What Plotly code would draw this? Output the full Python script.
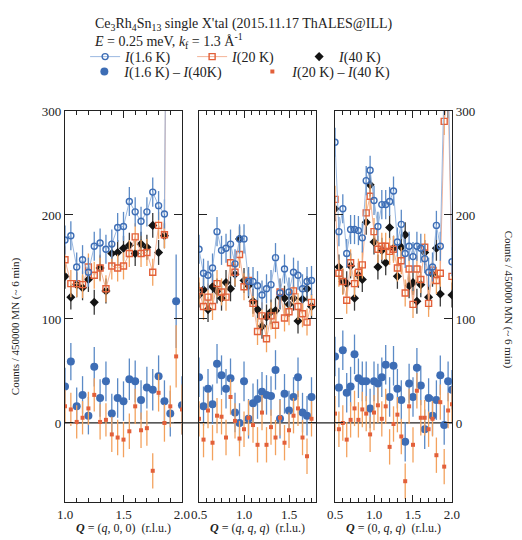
import plotly.graph_objects as go

FONT = "Liberation Serif"

# ---------------- Panel 1 : Q = (q, 0, 0) ----------------
q1 = [1.00, 1.05, 1.10, 1.15, 1.20, 1.25, 1.30, 1.35, 1.40, 1.45, 1.50,
      1.55, 1.60, 1.65, 1.70, 1.75, 1.80, 1.85, 1.90, 1.95, 2.00]
i16_1 = [176, 180, 150, 157, 145, 170, 173, 167, 172, 188, 189,
         213, 203, 194, 203, 222, 209, 201, 950, None, None]
i20_1 = [157, 134, 134, 133, 150, 142, 149, 129, 151, 149, 151,
         163, 179, 163, 164, 145, 190, 181, 930, None, None]
i40_1 = [141, 121, 133, 130, 138, 116, 149, 127, 163, 164, 168,
         171, 163, 172, 169, 190, 164, 180, 940, None, None]
d16_1 = [35, 59, 16, 27, 7, 54, 24, 40, 9, 24, 21,
         42, 40, 22, 34, 32, 45, 21, 9, 117, 17]
d20_1 = [16, 13, 1, 5, 14, 27, 1, 3, -11, -14, -16,
         -8, 16, -7, -5, -46, 29, 0, 16, 64, 13]
e16_1 = [18, 18, 18, 18, 18, 19, 18, 19, 19, 19, 19,
         20, 20, 19, 20, 20, 20, 20, 22, 45, 28]
e20_1 = [16, 16, 16, 16, 16, 16, 17, 16, 17, 17, 17,
         17, 17, 17, 17, 17, 18, 18, 20, 30, 24]

# ---------------- Panel 2 : Q = (q, q, q) ----------------
q2 = [0.50, 0.55, 0.60, 0.65, 0.70, 0.75, 0.80, 0.85, 0.90, 0.95, 1.00,
      1.05, 1.10, 1.15, 1.20, 1.25, 1.30, 1.35, 1.40, 1.45, 1.50,
      1.55, 1.60, 1.65, 1.70, 1.75]
i16_2 = [167, 144, 142, 149, 184, 166, 168, 172, 153, 177, 177,
         136, 136, 132, 123, 129, 133, 159, 125, 148, 126,
         145, 142, 129, 136, 137]
i20_2 = [127, 112, 121, 112, 134, 126, 121, 154, 145, 162, 131,
         137, 115, 88, 103, 81, 103, 94, 126, 101, 107,
         127, 112, 105, 97, 116]
i40_2 = [123, 128, 109, 131, 127, 120, 135, 129, 143, 177, 137,
         132, 117, 109, 93, 102, 107, 108, 121, 120, 114,
         120, 98, 119, 129, 112]
d16_2 = [44, 16, 33, 18, 57, 46, 33, 43, 10, 0, 40,
         4, 19, 23, 30, 27, 26, 51, 4, 28, 12,
         25, 44, 10, 7, 25]
d20_2 = [4, -16, 12, -19, 7, 6, -14, 25, 2, -15, -6,
         5, -2, -21, 10, -21, -4, -14, 5, -19, -7,
         7, 14, -14, -32, 4]

# ---------------- Panel 3 : Q = (0, q, q) ----------------
q3 = [0.50, 0.55, 0.60, 0.65, 0.70, 0.75, 0.80, 0.85, 0.90, 0.95, 1.00,
      1.05, 1.10, 1.15, 1.20, 1.25, 1.30, 1.35, 1.40, 1.45, 1.50,
      1.55, 1.60, 1.65, 1.70, 1.75, 1.80, 1.85, 1.90, 1.95, 2.00]
i16_3 = [270, 184, 206, 163, 186, 186, 185, 178, 233, 243, 214,
         189, 210, 210, 213, 223, 174, 191, 163, 170, 160,
         170, 168, 158, 145, 150, 190, 170, 330, 345, 155]
i20_3 = [215, 144, 136, 118, 154, 134, 145, 152, 202, 218, 184,
         167, 170, 170, 165, 167, 149, 156, 125, 148, 114,
         148, 138, 169, 115, 147, 137, 144, 290, 317, 141]
i40_3 = [206, 150, 136, 134, 151, 120, 142, 138, 193, 229, 174,
         150, 166, 154, 188, 168, 141, 169, 181, 132, 135,
         117, 133, 164, 121, 143, 168, 124, 332, 305, 123]
d16_3 = [64, 34, 70, 29, 35, 66, 43, 40, 40, 14, 40,
         38, 44, 56, 25, 55, 33, 22, -18, 38, 25,
         53, 36, -6, 24, 7, 22, 46, -2, 40, 32]
d20_3 = [9, -6, 0, -16, 3, 14, 3, 13, 9, -11, 10,
         17, 4, 16, -23, -1, 8, -13, -56, 16, -21,
         31, 5, 5, -6, 4, -31, 20, -42, 12, 18]

# error sizes (counts)
ERR_I16 = 14
ERR_I20 = 13
ERR_I40 = 12
ERR_D16 = 19
ERR_D20 = 17

# ---------------- styles ----------------
BLUE = "#3d6db5"
BLUE_LINE = "#8fb0dc"
BLUE_ERR = "#5b8ac6"
RED = "#e2603a"
RED_LINE = "#f2a98a"
RED_ERR = "#f3a25e"
BLACK = "#141414"
BLACK_ERR = "#3a3a3a"
AXC = "#222222"

fig = go.Figure()

panels = [
    (q1, i16_1, i20_1, i40_1, d16_1, d20_1, e16_1, e20_1, "x", "y"),
    (q2, i16_2, i20_2, i40_2, d16_2, d20_2, None, None, "x2", "y2"),
    (q3, i16_3, i20_3, i40_3, d16_3, d20_3, None, None, "x3", "y3"),
]


def err(arr, const, color):
    if arr is None:
        return dict(type="constant", value=const, color=color, thickness=1.3, width=0)
    return dict(type="data", array=arr, color=color, thickness=1.3, width=0)


for k, (q, i16, i20, i40, d16, d20, e16, e20, xa, ya) in enumerate(panels):
    first = (k == 0)
    fig.add_trace(go.Scatter(
        x=q, y=i40, mode="markers", xaxis=xa, yaxis=ya,
        name="<i>I</i>(40 K)", legend="legend", showlegend=first, legendrank=3,
        marker=dict(symbol="diamond", size=7, color=BLACK),
        error_y=err(None, ERR_I40, BLACK_ERR)))
    fig.add_trace(go.Scatter(
        x=q, y=i20, mode="lines+markers", xaxis=xa, yaxis=ya,
        name="<i>I</i>(20 K)", legend="legend", showlegend=first, legendrank=2,
        line=dict(color=RED_LINE, width=0.9),
        marker=dict(symbol="square-open", size=6, color=RED, line=dict(width=1.4, color=RED)),
        error_y=err(None, ERR_I20, RED_ERR)))
    fig.add_trace(go.Scatter(
        x=q, y=i16, mode="lines+markers", xaxis=xa, yaxis=ya,
        name="<i>I</i>(1.6 K)", legend="legend", showlegend=first, legendrank=1,
        line=dict(color=BLUE_LINE, width=0.9),
        marker=dict(symbol="circle-open", size=6, color=BLUE, line=dict(width=1.4, color=BLUE)),
        error_y=err(None, ERR_I16, BLUE_ERR)))
    fig.add_trace(go.Scatter(
        x=q, y=d16, mode="markers", xaxis=xa, yaxis=ya,
        name="<i>I</i>(1.6 K) \u2013 <i>I</i>(40K)", legend="legend2", showlegend=first,
        marker=dict(symbol="circle", size=8, color=BLUE),
        error_y=err(e16, ERR_D16, BLUE_ERR)))
    fig.add_trace(go.Scatter(
        x=q, y=d20, mode="markers", xaxis=xa, yaxis=ya,
        name="<i>I</i>(20 K) \u2013 <i>I</i>(40 K)", legend="legend2", showlegend=first,
        marker=dict(symbol="square", size=4, color=RED),
        error_y=err(e20, ERR_D20, RED_ERR)))

axis_common = dict(showline=True, linecolor=AXC, linewidth=1.2, mirror="ticks",
                   ticks="inside", tickcolor=AXC, tickwidth=1, showgrid=False,
                   zeroline=False, tickfont=dict(family=FONT, size=13, color=AXC))

YR = [-76, 300]
ytick = dict(tickmode="array", tickvals=[0, 100, 200, 300], ticklen=8)

D1 = [0.0, 0.3023]
D2 = [0.3463, 0.6486]
D3 = [0.6977, 1.0]

fig.update_layout(
    xaxis=dict(domain=D1, range=[1.0, 2.0], anchor="y", tickmode="array",
               tickvals=[1.0, 1.5, 2.0], ticktext=["1.0", "1.5", "2.0"], ticklen=7,
               minor=dict(tickmode="linear", tick0=1.0, dtick=0.1, ticks="inside", ticklen=4,
                          tickcolor=AXC), **axis_common),
    xaxis2=dict(domain=D2, range=[0.5, 1.8], anchor="y2", tickmode="array",
                tickvals=[0.5, 1.0, 1.5], ticktext=["0.5", "1.0", "1.5"], ticklen=7,
                minor=dict(tickmode="linear", tick0=0.5, dtick=1 / 12, ticks="inside", ticklen=4,
                           tickcolor=AXC), **axis_common),
    xaxis3=dict(domain=D3, range=[0.5, 2.0], anchor="y3", tickmode="array",
                tickvals=[0.5, 1.0, 1.5, 2.0], ticktext=["0.5", "1.0", "1.5", "2.0"], ticklen=7,
                minor=dict(tickmode="linear", tick0=0.5, dtick=0.1, ticks="inside", ticklen=4,
                           tickcolor=AXC), **axis_common),
    yaxis=dict(range=YR, anchor="x", side="left", **ytick, **axis_common),
    yaxis2=dict(range=YR, anchor="x2", side="left", showticklabels=False, **ytick, **axis_common),
    yaxis3=dict(range=YR, anchor="x3", side="right", **ytick, **axis_common),
)

fig.add_shape(type="line", xref="paper", x0=0, x1=1, yref="y", y0=0, y1=0,
              line=dict(color=AXC, width=1.2), layer="below")

ann_font = dict(family=FONT, size=14, color=AXC)
fig.add_annotation(xref="paper", yref="paper", x=0.07, y=1.197, xanchor="left", yanchor="middle",
                   showarrow=False, font=ann_font, align="left",
                   text="Ce<sub>3</sub>Rh<sub>4</sub>Sn<sub>13</sub> single X'tal (2015.11.17 ThALES@ILL)"
                        "<br><i>E</i> = 0.25 meV, <i>k</i><sub>f</sub> = 1.3 \u00c5<sup>-1</sup>")

xt_font = dict(family=FONT, size=12, color=AXC)
for dom, lab in [(D1, "(<i>q</i>, 0, 0)"), (D2, "(<i>q</i>, <i>q</i>, <i>q</i>)"),
                 (D3, "(0, <i>q</i>, <i>q</i>)")]:
    fig.add_annotation(xref="paper", yref="paper", x=(dom[0] + dom[1]) / 2, y=-0.067,
                       xanchor="center", yanchor="middle", showarrow=False, font=xt_font,
                       text="<b><i>Q</i></b> = " + lab + "  (r.l.u.)")

yt_font = dict(family=FONT, size=11, color=AXC)
fig.add_annotation(xref="paper", yref="paper", x=-0.129, y=0.45, textangle=-90,
                   xanchor="center", yanchor="middle",
                   showarrow=False, font=yt_font, text="Counts / 450000 MN (~ 6 min)")
fig.add_annotation(xref="paper", yref="paper", x=1.145, y=0.517, textangle=90,
                   xanchor="center", yanchor="middle",
                   showarrow=False, font=yt_font, text="Counts / 450000 MN (~ 6 min)")

leg_font = dict(family=FONT, size=14, color=AXC)
# the page body adds an 8 px offset, so the figure is 8 px smaller than the window
fig.update_layout(
    width=514, height=532,
    margin=dict(l=57, r=70, t=103, b=38),
    paper_bgcolor="white", plot_bgcolor="rgba(0,0,0,0)",
    font=dict(family=FONT, color=AXC),
    legend=dict(orientation="h", x=0.052, y=1.179, xanchor="left", yanchor="top",
                font=leg_font, bgcolor="rgba(0,0,0,0)", entrywidth=62,
                entrywidthmode="pixels", itemwidth=30, tracegroupgap=0,
                traceorder="normal"),
    legend2=dict(orientation="h", x=0.05, y=1.141, xanchor="left", yanchor="top",
                 font=leg_font, bgcolor="rgba(0,0,0,0)", entrywidth=123,
                 entrywidthmode="pixels", itemwidth=30),
)

fig.write_html("out.html")
